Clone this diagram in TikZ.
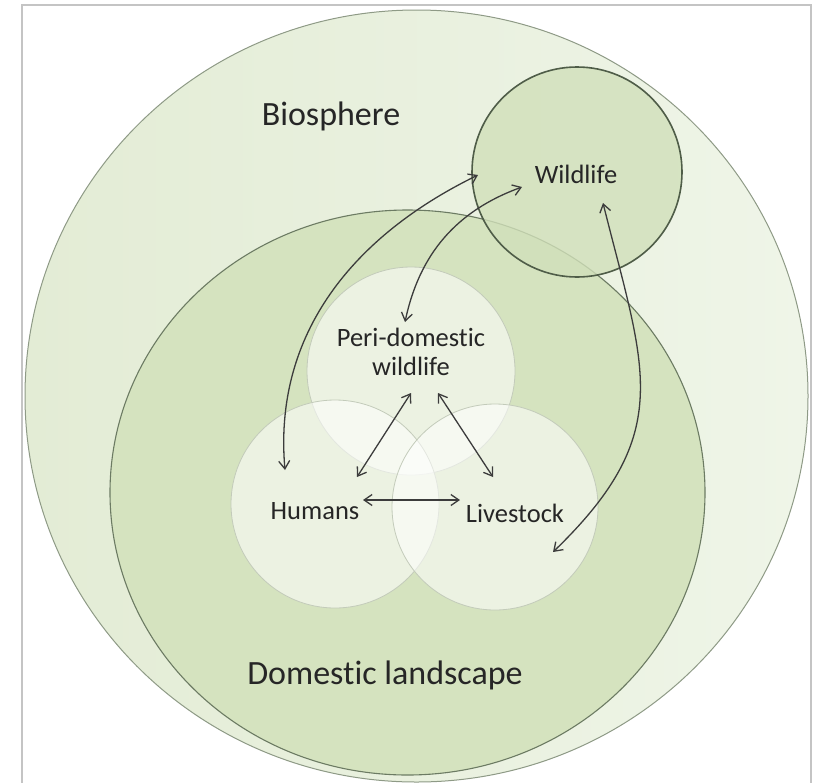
\documentclass[tikz,border=0pt]{standalone}
\usepackage{fontspec}
\setmainfont{Carlito}[Ligatures=NoCommon]
\usetikzlibrary{arrows.meta}
\definecolor{frameGray}{HTML}{C4C4C4}
\definecolor{bioLeft}{HTML}{E3ECD5}
\definecolor{bioRight}{HTML}{EFF5E8}
\definecolor{bioRim}{HTML}{8E9A86}
\definecolor{domFill}{HTML}{D5E3BF}
\definecolor{domRim}{HTML}{6C7B63}
\definecolor{wildFill}{HTML}{D1E0BA}
\definecolor{wildRim}{HTML}{4F5D48}
\definecolor{spotRim}{HTML}{C3CBBA}
\definecolor{inkGray}{HTML}{262626}
\definecolor{linkGray}{HTML}{3C3C3C}

\begin{document}
\begin{tikzpicture}[x=1pt,y=-1pt,
    lbl/.style={text=inkGray,inner sep=0pt,align=center,
        font=\fontsize{26.5}{29}\selectfont},
    biglbl/.style={text=inkGray,inner sep=0pt,
        font=\fontsize{34}{38}\selectfont},
    spot/.style={fill=white,fill opacity=0.55,draw=spotRim,line width=0.8pt},
    link/.style={draw=linkGray,line width=1.3pt,
        {Straight Barb[length=8pt,width=11pt]}-{Straight Barb[length=8pt,width=11pt]}}]
    \useasboundingbox (0,0) rectangle (821,782);

    \draw[frameGray,line width=1.5pt] (22,800) -- (22,5) -- (811,5) -- (811,800);

    \shade[left color=bioLeft,right color=bioRight]
        (416.5,396) ellipse [x radius=391.5pt,y radius=386pt];
    \draw[bioRim,line width=1pt]
        (416.5,396) ellipse [x radius=391.5pt,y radius=386pt];
    \filldraw[fill=domFill,draw=domRim,line width=1.1pt]
        (407.5,492.5) ellipse [x radius=297.5pt,y radius=282.5pt];
    \filldraw[fill=wildFill,fill opacity=0.8,draw=wildRim,line width=1.6pt]
        (577,172) circle (105pt);

    \filldraw[spot] (411,371) circle (104pt);
    \filldraw[spot] (335,504) circle (104pt);
    \filldraw[spot] (495,507) circle (103pt);

    \node[biglbl] (bio) at (331,116) {Biosphere};
    \node[biglbl] (dom) at (385,675) {Domestic landscape};
    \node[lbl] (wild) at (576,174) {Wildlife};
    \node[lbl] (peri) at (411,352) {Peri-domestic\\wildlife};
    \node[lbl] (hum) at (315,511) {Humans};
    \node[lbl] (live) at (515,513) {Livestock};

    \coordinate (humTop) at (285,470);
    \coordinate (wildA) at (478,175);
    \coordinate (periTop) at (405,322);
    \coordinate (wildB) at (522,187);
    \coordinate (liveLow) at (553,552);
    \coordinate (wildC) at (603,203);
    \coordinate (periL) at (411,393);
    \coordinate (humR) at (357,477);
    \coordinate (periR) at (438,393);
    \coordinate (liveL) at (493,477);
    \coordinate (humE) at (363,500);
    \coordinate (liveW) at (460,500);

    \draw[link] (humTop) to[out=95,in=206] (wildA);
    \draw[link] (periTop) to[out=78,in=200] (wildB);
    \draw[link] (liveLow) to[out=44,in=284,looseness=1.25] (wildC);
    \draw[link] (periL) -- (humR);
    \draw[link] (periR) -- (liveL);
    \draw[link] (humE) -- (liveW);
\end{tikzpicture}
\end{document}
